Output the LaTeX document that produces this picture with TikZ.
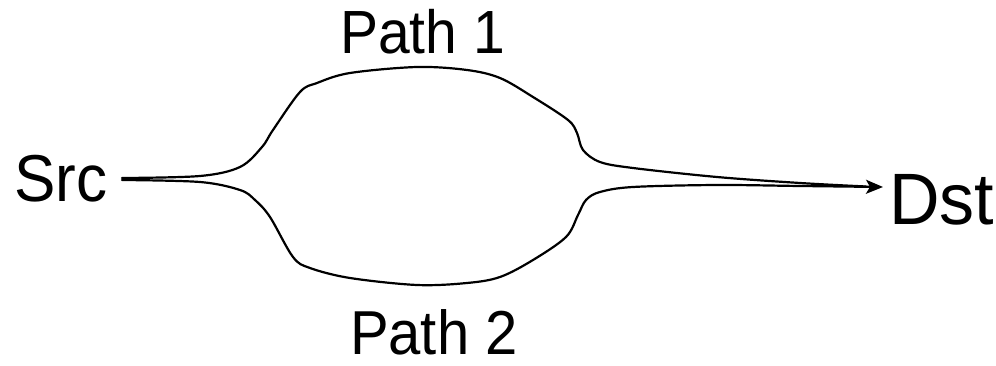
\documentclass[tikz,border=0pt]{standalone}
\usepackage{fontspec}
\setmainfont{Liberation Sans}
\usetikzlibrary{arrows.meta}
\begin{document}
\begin{tikzpicture}[x=1pt,y=-1pt,
  lbl/.style={inner sep=0pt,outer sep=0pt,anchor=base west},
  route/.style={line width=2.2pt,line join=round,line cap=round}]
\useasboundingbox (0,0) rectangle (996,366);
\node[lbl,font=\fontsize{62}{62}\selectfont] (src) at (14,202) {\scalebox{1}[1.07]{Src}};
\node[lbl,font=\fontsize{70}{70}\selectfont] (dst) at (889,225) {\scalebox{1}[1.04]{Dst}};
\node[lbl,font=\fontsize{57}{57}\selectfont] (p1) at (340,54) {\scalebox{1}[1.07]{Path 1}};
\node[lbl,font=\fontsize{58}{58}\selectfont] (p2) at (350,354) {\scalebox{1}[1.07]{Path 2}};
\coordinate (s1) at (122,178);
\coordinate (s2) at (122,180);
\coordinate (d1) at (866,186.5);
\coordinate (d2) at (883,187);
\draw[route] plot[smooth,tension=0.55] coordinates {
  (122,178) (200,176) (240,167) (262,147) (273,130) (300,92) (317,83) (350,73)
  (417,67) (467,70) (500,78) (533,97) (568,120) (577,133) (583,150) (600,162)
  (633,168) (717,177) (800,183) (866,186.5)};
\draw[route,-{Stealth[length=17pt,width=14pt,inset=4pt]}] plot[smooth,tension=0.55] coordinates {
  (122,180) (200,182) (240,190) (255,200) (270,217) (293,257) (310,268) (350,278)
  (417,285) (467,283) (500,277) (533,260) (566,237) (578,215) (586,200) (600,192)
  (633,187) (717,185) (800,186) (883,187)};
\end{tikzpicture}
\end{document}
